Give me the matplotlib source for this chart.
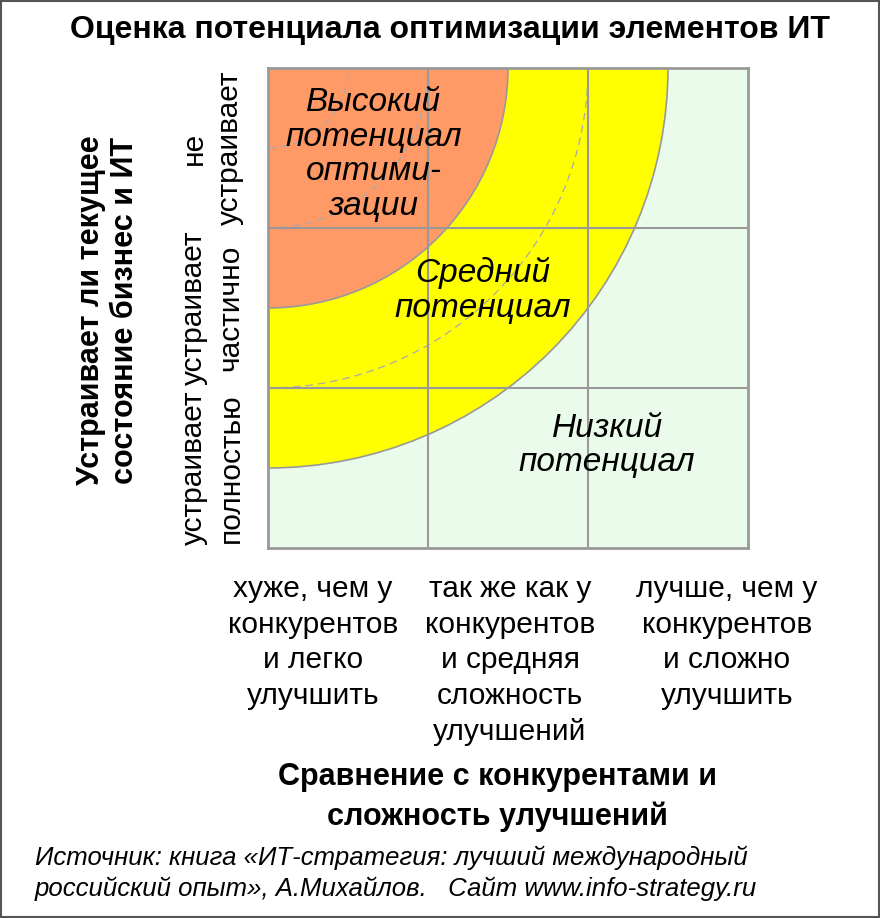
import numpy as np
import matplotlib.pyplot as plt
from matplotlib.patches import Wedge, Rectangle

FONT = "Liberation Sans"
plt.rcParams["font.family"] = FONT

# Data
zone_radii = [2.5, 1.5]           # yellow, orange (grid units from top-left corner)
zone_colors = ["#FFFF00", "#FF9966"]
dashed_radii = [0.5, 1.0, 2.0]
x_labels = ["хуже, чем у\nконкурентов\nи легко\nулучшить",
            "так же как у\nконкурентов\nи средняя\nсложность\nулучшений",
            "лучше, чем у\nконкурентов\nи сложно\nулучшить"]
x_label_pos = [313, 510, 727]
y_labels = ["устраивает\nполностью", "устраивает\nчастично", "не\nустраивает"]
zone_texts = [("Высокий\nпотенциал\nоптими-\nзации", 0.66, 2.46),
              ("Средний\nпотенциал", 1.34, 1.61),
              ("Низкий\nпотенциал", 2.12, 0.64)]

W, H = 880, 918
fig = plt.figure(figsize=(W / 100, H / 100), dpi=100)
ax = fig.add_axes([268 / W, (H - 548) / H, 480 / W, 480 / H])
ax.set_xlim(0, 3)
ax.set_ylim(0, 3)
ax.set_facecolor("#EBFBEB")

for r, c in zip(zone_radii, zone_colors):
    ax.add_patch(Wedge((0, 3), r, 270, 360, facecolor=c, edgecolor="#999999", lw=1.2, zorder=1))
for r in dashed_radii:
    ax.add_patch(Wedge((0, 3), r, 270, 360, fill=False, edgecolor="#AAAAAA", lw=0.9,
                       linestyle=(0, (6, 4)), zorder=2))
for v in [1, 2]:
    ax.axvline(v, color="#999999", lw=1.5, zorder=3)
    ax.axhline(v, color="#999999", lw=1.5, zorder=3)
for s in ax.spines.values():
    s.set_color("#999999")
    s.set_linewidth(2)
ax.set_xticks([])
ax.set_yticks([])

for t, x, y in zone_texts:
    ax.text(x, y, t, ha="center", va="center", fontsize=24, style="italic",
            linespacing=1.15, zorder=4)

for x, t in zip(x_label_pos, x_labels):
    fig.text(x / W, 1 - 575 / H, t, ha="center", va="top",
             fontsize=21.5, linespacing=1.35)
for i, t in enumerate(y_labels):
    fig.text(212 / W, 1 - (468 - 160 * i) / H, t, ha="center", va="center",
             fontsize=21.5, rotation=90, linespacing=1.4)

fig.text(450 / W, 1 - 30 / H, "Оценка потенциала оптимизации элементов ИТ",
         ha="center", va="center", fontsize=23, weight="bold")
fig.text(108 / W, 1 - 310 / H, "Устраивает ли текущее\nсостояние бизнес и ИТ",
         ha="center", va="center", fontsize=22, weight="bold", rotation=90, linespacing=1.15)
fig.text(497 / W, 1 - 797 / H, "Сравнение с конкурентами и\nсложность улучшений",
         ha="center", va="center", fontsize=22, weight="bold", linespacing=1.4)
fig.text(35 / W, 1 - 873 / H,
         "Источник: книга «ИТ-стратегия: лучший международный\n"
         "российский опыт», А.Михайлов.   Сайт www.info-strategy.ru",
         ha="left", va="center", fontsize=18.5, style="italic", linespacing=1.35)

fig.add_artist(Rectangle((0.001, 0.001), 0.998, 0.998, transform=fig.transFigure,
                         fill=False, edgecolor="#555555", lw=1.5))

fig.savefig("out.png", dpi=100)
